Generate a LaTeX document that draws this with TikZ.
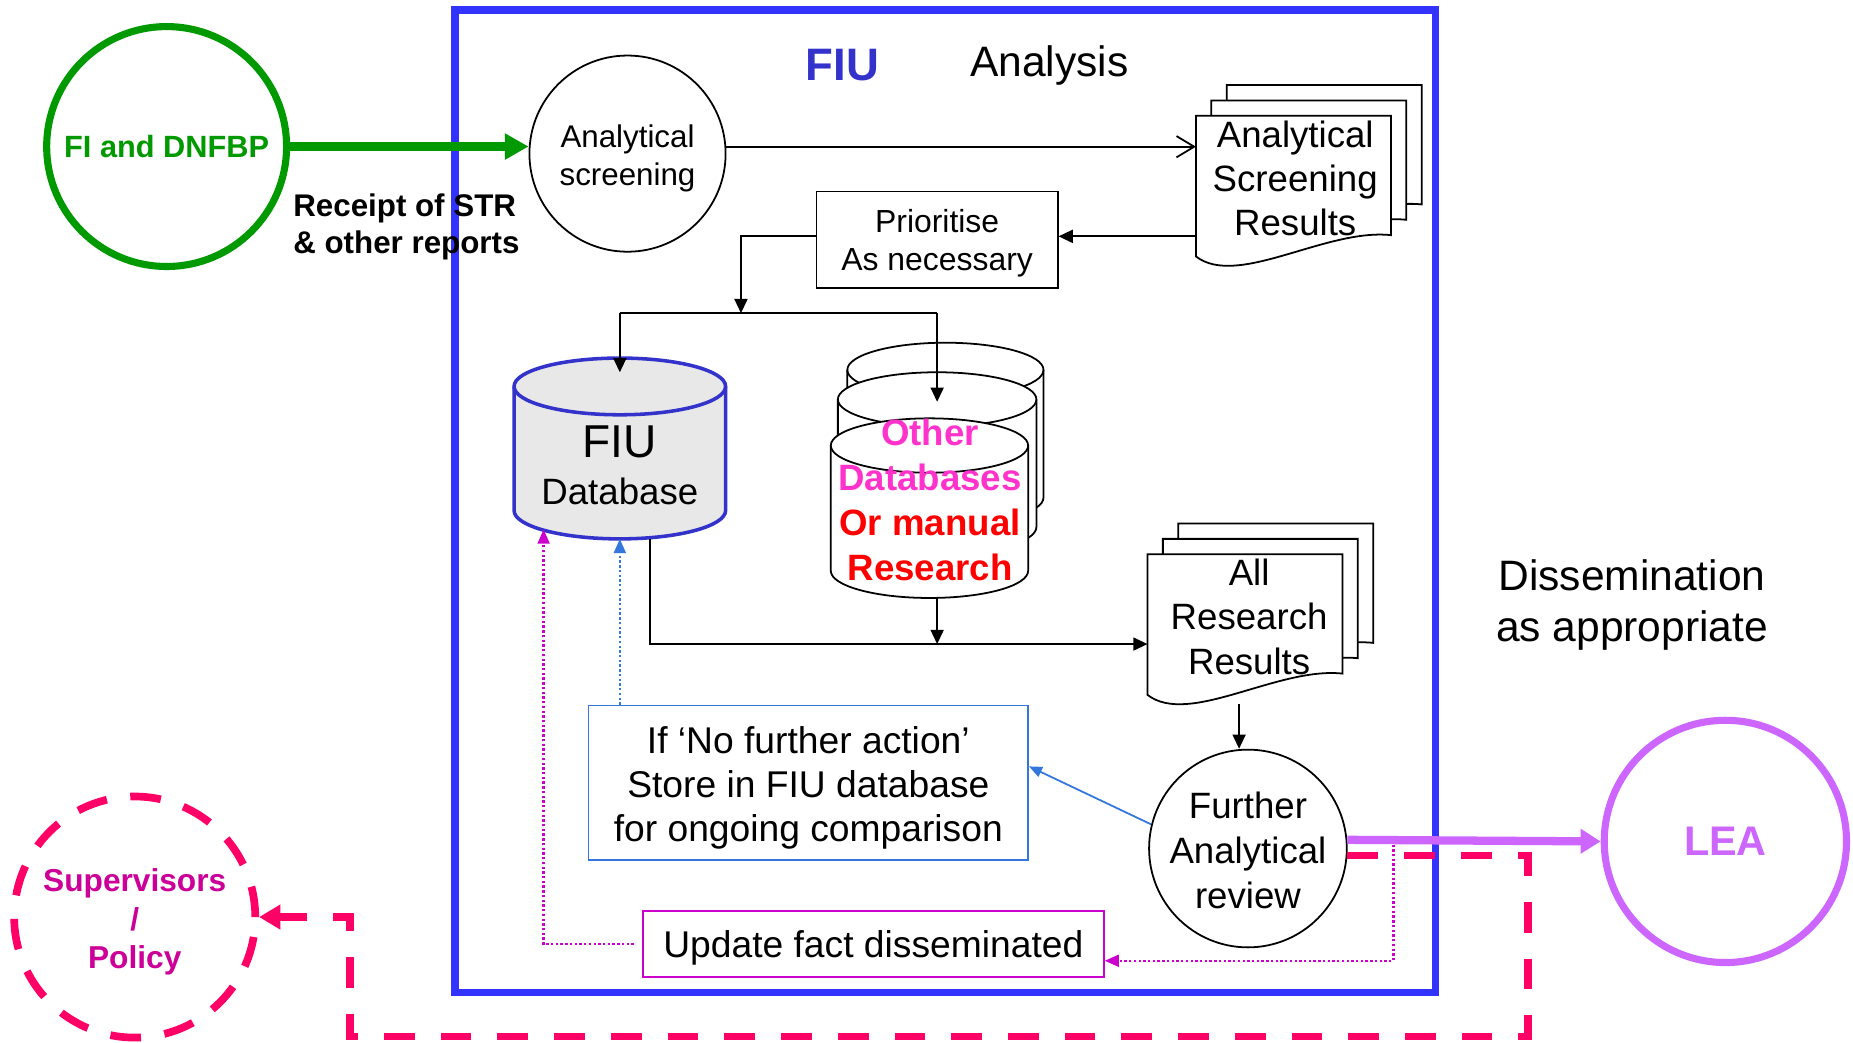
\documentclass[tikz,border=0pt]{standalone}
\usepackage{fontspec}
\setmainfont{Liberation Sans}
\usetikzlibrary{arrows.meta,calc}
\definecolor{fgreen}{HTML}{009900}
\definecolor{framebl}{HTML}{3333FF}
\definecolor{fiublue}{HTML}{3333CC}
\definecolor{dbgrey}{HTML}{E8E8E8}
\definecolor{opink}{HTML}{FF33CC}
\definecolor{sblue}{HTML}{3377DD}
\definecolor{magd}{HTML}{CC00CC}
\definecolor{vio}{HTML}{CC66FF}
\definecolor{pnk}{HTML}{FF0066}
\definecolor{supc}{HTML}{CC0099}
\newcommand\myfs[2]{\fontsize{#1pt}{#2pt}\selectfont}
\newcommand\mytop[1]{\rule{0pt}{#1pt}}
% cylinder: cx, top, rx, ry, bottom, style
\newcommand\mycyl[6]{%
  \path[#6] (#1-#3,#2+#4) -- (#1-#3,#5-#4)
     arc[start angle=180,end angle=360,x radius=#3pt,y radius=#4pt]
     -- (#1+#3,#2+#4)
     arc[start angle=0,end angle=180,x radius=#3pt,y radius=#4pt] -- cycle;
  \path[#6,fill=none] (#1-#3,#2+#4)
     arc[start angle=180,end angle=360,x radius=#3pt,y radius=#4pt];}
% document: left, top
\newcommand\mydoc[2]{%
  \draw[line width=1.5pt, fill=white] (#1,#2) -- (#1+165,#2) -- (#1+165,#2+101)
    .. controls (#1+110,#2+95) and (#1+35,#2+146) .. (#1,#2+119) -- cycle;}
\begin{document}
\begin{tikzpicture}[x=1pt,y=-1pt,
  txt/.style={inner sep=0pt, align=center},
  ghost/.style={draw=none, inner sep=0pt, outer sep=0pt, rectangle},
  blk/.style={line width=1.5pt, -{Triangle[length=12pt,width=11pt]}},
  dotarrow/.style={line width=2pt, dash pattern=on 2pt off 2pt, -{Triangle[length=12pt,width=10pt]}},
  bigcirc/.style={circle, line width=6pt, inner sep=0pt, align=center},
  thincirc/.style={circle, draw, line width=1.5pt, inner sep=0pt, align=center}
]
\useasboundingbox (0,0) rectangle (1568,882);
\fill[white] (0,0) rectangle (1568,882);

% FIU frame
\draw[framebl, line width=6pt] (385,8.5) rectangle (1215,840);

% outer actors
\node[bigcirc, draw=fgreen, minimum size=203pt, font=\bfseries\myfs{26}{31}, text=fgreen] (fi) at (141,124) {FI and DNFBP};
\node[bigcirc, draw=vio, minimum size=205pt, font=\bfseries\myfs{35}{40}, text=vio] (lea) at (1460,712) {LEA};
\node[bigcirc, draw=pnk, line width=6.5pt, dash pattern=on 26pt off 20pt, minimum size=204pt, font=\bfseries\myfs{26.8}{32.5}, text=supc] (sup) at (114,776) {\mytop{27.6}Supervisors\\/\\Policy};

% titles and labels
\node[txt, font=\bfseries\myfs{38.5}{40}, text=fiublue, anchor=base] (fiut) at (713,68) {FIU};
\node[txt, font=\myfs{36}{40}, anchor=base] (anl) at (888,65) {Analysis};
\node[txt, anchor=west, align=left, font=\bfseries\myfs{26.5}{32}] (rcpt) at (248,192) {Receipt of STR\\\& other reports};
\node[txt, font=\myfs{36}{43}] (diss) at (1381,512) {Dissemination\\as appropriate};

% analytical screening
\node[thincirc, minimum size=166pt, font=\myfs{26.5}{32}] (scr) at (531,130) {\mytop{27.3}Analytical\\screening};

% screening results documents
\mydoc{1038}{72}\mydoc{1025}{85}\mydoc{1012}{98}
\node[ghost, minimum width=165pt, minimum height=119pt] (scrdoc) at (1094.5,157.5) {};
\node[txt, font=\myfs{31}{37.5}] (scrtxt) at (1096,151) {Analytical\\Screening\\Results};

% prioritise
\node[draw, line width=1.5pt, minimum width=204pt, minimum height=82pt, inner sep=0pt, align=center, font=\myfs{27}{32}] (prio) at (793,203) {\mytop{25.7}Prioritise\\As necessary};

% FIU database
\mycyl{524.5}{303}{89.5}{24}{456}{draw=fiublue, fill=dbgrey, line width=3pt}
\node[ghost, minimum width=179pt, minimum height=153pt] (fiudb) at (524.5,379.5) {};
\node[txt, font=\myfs{39}{40}] (fiua) at (524.5,374) {FIU};
\node[txt, font=\myfs{31}{40}] (fiub) at (524.5,416) {Database};

% other databases
\mycyl{800}{290}{83}{23}{444}{draw, fill=white, line width=1.5pt}
\mycyl{793}{315}{84}{23}{469}{draw, fill=white, line width=1.5pt}
\mycyl{786.5}{354}{83.5}{23}{506}{draw, fill=white, line width=1.5pt}
\node[ghost, minimum width=180pt, minimum height=216pt] (odb) at (793,398) {};
\node[txt, font=\bfseries\myfs{31}{38}] (odbt) at (787,423) {\textcolor{opink}{Other}\\\textcolor{opink}{Databases}\\\textcolor{red}{Or manual}\\\textcolor{red}{Research}};

% all research results documents
\mydoc{997}{443}\mydoc{984}{456}\mydoc{971}{469}
\node[ghost, minimum width=165pt, minimum height=119pt] (arrdoc) at (1053.5,528.5) {};
\node[txt, font=\myfs{31}{37.5}] (arrtxt) at (1057,522) {All\\Research\\Results};

% further analytical review
\node[thincirc, minimum size=166pt, font=\myfs{31}{38}] (further) at (1056,718) {\mytop{25.6}Further\\Analytical\\review};

% boxes
\node[draw=sblue, line width=1.5pt, minimum width=372pt, minimum height=131pt, inner sep=0pt, align=center, font=\myfs{31.5}{37.5}] (ifbox) at (684,662.5) {\mytop{31}If ‘No further action’\\Store in FIU database\\for ongoing comparison};
\node[draw=magd, line width=1.5pt, minimum width=390pt, minimum height=56pt, inner sep=0pt, font=\myfs{31.5}{36}] (update) at (739,799) {\mytop{29}Update fact disseminated};

% helper coordinates
\coordinate (junc) at (627,265);
\coordinate (bus) at (550,545);
\coordinate (pk1) at (1293,877);
\coordinate (pk2) at (296,776);
\coordinate (tap) at ($(further.5)+(39,0)$);
\coordinate (dbbl) at ($(fiudb.south)+(-64.5,-8)$);
\coordinate (arrbot) at ($(arrdoc.south)+(-5,8)$);
\coordinate (prioE) at ($(prio.east)+(0,-3)$);
\coordinate (prioW) at ($(prio.west)+(0,-3)$);

% connectors
\draw[fgreen, line width=7pt, -{Triangle[length=20pt,width=21pt]}] (fi.east) -- (fi.east -| scr.west);
\draw[line width=1.5pt, -{Straight Barb[length=15pt,width=18pt]}] (scr.4) -- (scr.4 -| scrdoc.west);
\draw[blk] (scrdoc.west |- prioE) -- (prioE);
\draw[blk] (prioW) -| (junc);
\draw[line width=1.5pt] (fiudb.north |- junc) -- (odb.north |- junc);
\draw[blk] (fiudb.north |- junc) -- ($(fiudb.north)+(0,12)$);
\draw[blk] (odb.north |- junc) -- ($(odb.north)+(0,50)$);
\draw[blk] (odb.south) -- (odb.south |- bus);
\draw[blk] ($(fiudb.south)+(25.5,0)$) |- (bus -| arrdoc.west);
\draw[blk] (arrbot) -- (arrbot |- further.north);
\draw[sblue, line width=1.5pt, -{Triangle[length=11pt,width=9pt]}] (further.166) -- ($(ifbox.east)+(0,-14)$);
\draw[sblue, dotarrow] (fiudb.south |- ifbox.north) -- (fiudb.south);
\draw[magd, dotarrow] ($(update.west)+(-7,0)$) -| (dbbl);
\draw[magd, dotarrow] (tap) |- ($(update.east)+(0,14)$);
\draw[vio, line width=7pt, -{Triangle[length=17pt,width=20pt]}] (further.5) -- (lea.west);
\draw[pnk, line width=6.5pt, dash pattern=on 26pt off 22pt, -{Triangle[length=18pt,width=20pt]}] (further.-4) -| (pk1) -| (pk2) -- (sup.east);
\end{tikzpicture}
\end{document}
